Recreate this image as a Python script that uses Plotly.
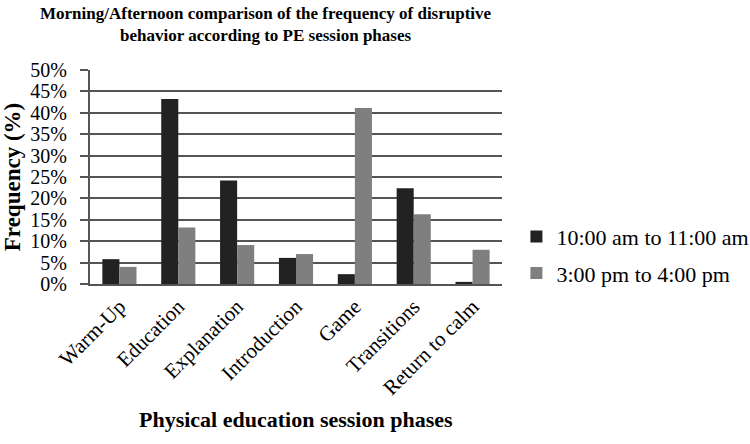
import plotly.graph_objects as go

phases = ["Warm-Up", "Education", "Explanation", "Introduction", "Game", "Transitions", "Return to calm"]
morning = [5.8, 43.2, 24.2, 6.1, 2.3, 22.4, 0.5]
afternoon = [4.0, 13.2, 9.1, 7.0, 41.1, 16.3, 8.0]
series_names = ["10:00 am to 11:00 am", "3:00 pm to 4:00 pm"]
ytick_vals = [0, 5, 10, 15, 20, 25, 30, 35, 40, 45, 50]
ytick_text = [f"{v}%" for v in ytick_vals]

FONT = "Liberation Serif"

fig = go.Figure()
fig.add_trace(go.Bar(x=phases, y=morning, name=series_names[0], legendgroup="a",
                     marker=dict(color="#222222", line=dict(width=0))))
fig.add_trace(go.Bar(x=phases, y=afternoon, name=series_names[1], legendgroup="b",
                     marker=dict(color="#7f7f7f", line=dict(width=0))))

fig.update_layout(
    width=750, height=444,
    margin=dict(l=90, r=248, t=70, b=160, autoexpand=False),
    paper_bgcolor="white", plot_bgcolor="white",
    font=dict(family=FONT, color="black", size=21),
    barmode="group", bargap=0.42, bargroupgap=0,
    showlegend=True,
    legend=dict(x=1.035, xanchor="left", y=0.135, yanchor="middle",
                font=dict(family=FONT, size=22, color="black"),
                traceorder="grouped", tracegroupgap=5,
                itemwidth=30, bgcolor="rgba(0,0,0,0)"),
    annotations=[
        dict(text="<b>Morning/Afternoon comparison of the frequency of disruptive<br>behavior according to PE session phases</b>",
             xref="paper", yref="paper", x=(266 - 90) / 412, y=1 + (70 - 24) / 214,
             xanchor="center", yanchor="middle", showarrow=False,
             font=dict(family=FONT, size=17, color="black")),
        dict(text="<b>Physical education session phases</b>",
             xref="paper", yref="paper", x=0.5, y=(284 - 419) / 214,
             xanchor="center", yanchor="middle", showarrow=False,
             font=dict(family=FONT, size=22, color="black")),
    ],
)
fig.update_xaxes(
    showline=True, linecolor="#555555", linewidth=2,
    tickangle=-45, ticks="", showgrid=False,
    tickfont=dict(family=FONT, size=21, color="black"),
)
fig.update_yaxes(
    range=[0, 50], tickvals=ytick_vals, ticktext=ytick_text,
    showline=True, linecolor="#555555", linewidth=2,
    showgrid=True, gridcolor="#555555", gridwidth=2,
    ticks="outside", ticklen=8, tickcolor="#555555", tickwidth=2,
    ticklabelstandoff=9,
    tickfont=dict(family=FONT, size=20, color="black"),
    zeroline=False,
    title=dict(text="<b>Frequency (%)</b>", standoff=8,
               font=dict(family=FONT, size=23, color="black")),
)

fig.write_html("out.html")
